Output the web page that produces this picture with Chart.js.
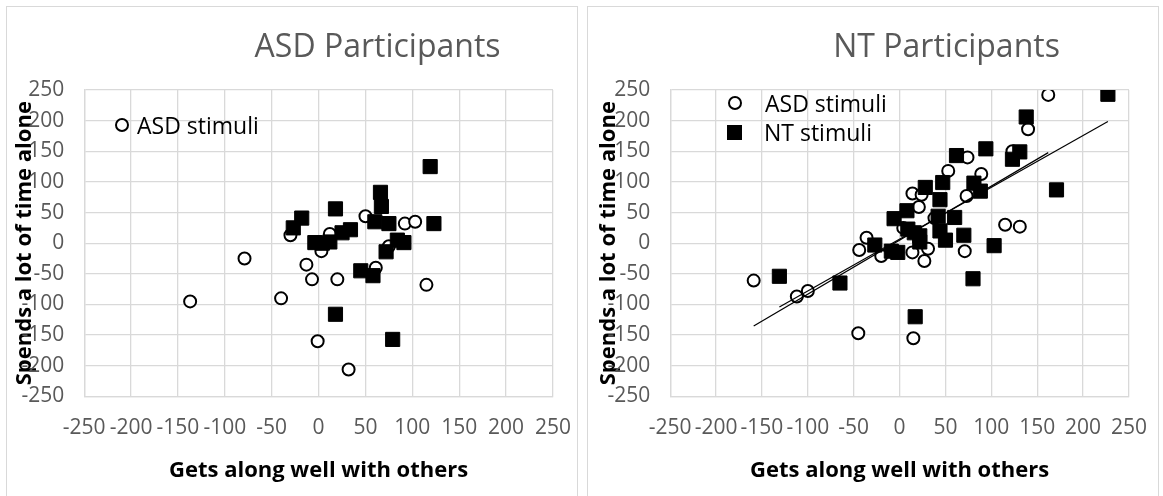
<!DOCTYPE html>
<html>
<head>
<meta charset="utf-8">
<title>Spends a lot of time alone vs Gets along well with others</title>
<script src="https://cdn.jsdelivr.net/npm/chart.js@4.4.1/dist/chart.umd.min.js"></script>
<style>
    body { margin: 0; background: #fff; font-family: 'Open Sans', sans-serif; }
    .panel {
        position: absolute;
        top: 6px;
        width: 572px;
        height: 500px;
        border: 1px solid #d9d9d9;
        box-sizing: border-box;
    }
    .chart-box { position: absolute; left: 0; top: 0; width: 570px; height: 489px; }
    .legend { position: absolute; font-size: 23px; color: #000; }
    .legend .item { position: absolute; display: flex; align-items: center; height: 30px; white-space: nowrap; }
    .mk { display: inline-block; box-sizing: border-box; flex: none; }
    .mk.circle { width: 14px; height: 14px; border: 2px solid #000; border-radius: 50%; background: #fff; }
    .mk.square { width: 15px; height: 15px; background: #000; }
</style>
</head>
<body>

<div class="panel" style="left: 6px;">
    <div class="chart-box"><canvas id="chart-asd"></canvas></div>
</div>
<div class="panel" style="left: 587px;">
    <div class="chart-box"><canvas id="chart-nt"></canvas></div>
</div>

<div class="legend">
    <div class="item" style="left: 115px; top: 110px;"><span class="mk circle" style="margin-right: 8px;"></span>ASD stimuli</div>
    <div class="item" style="left: 728px; top: 88px;"><span class="mk circle" style="margin-right: 23px;"></span>ASD stimuli</div>
    <div class="item" style="left: 727px; top: 117px;"><span class="mk square" style="margin-right: 22px;"></span>NT stimuli</div>
</div>

<script>
const axisTicks = [-250, -200, -150, -100, -50, 0, 50, 100, 150, 200, 250];

// ASD participants: ratings of ASD stimuli (circles) and NT stimuli (squares)
const asdPanelAsdStimuli = [
    [-137, -95], [-79, -25], [-40, -90], [-30, 13], [-13, -35], [-7, -59],
    [-1, -160], [3, -13], [12, 15], [20, -59], [32, -206], [50, 44],
    [61, -40], [75, -5], [92, 32], [103, 35], [115, -68],
];
const asdPanelNtStimuli = [
    [-27, 25], [-18, 41], [-4, 1], [4, 0], [12, 2], [18, 56], [25, 17],
    [34, 22], [60, 35], [66, 83], [67, 60], [75, 32], [84, 5], [91, 1],
    [72, -14], [45, -45], [58, -53], [18, -116], [79, -157], [119, 125], [123, 32],
];

// NT participants
const ntPanelAsdStimuli = [
    [-159, -61], [-112, -87], [-100, -78], [-45, -147], [-44, -11], [-36, 9],
    [-20, -21], [4, 25], [14, 81], [24, 79], [21, 59], [14, -15], [15, -155],
    [27, -29], [31, -9], [38, 41], [53, 118], [71, -13], [73, 77], [74, 140],
    [89, 113], [115, 30], [131, 27], [123, 150], [140, 186], [162, 242],
];
const ntPanelNtStimuli = [
    [-131, -54], [-65, -65], [-27, -3], [-9, -13], [-2, -15], [-6, 40], [8, 53],
    [9, 23], [16, 17], [22, 12], [22, 2], [17, -120], [28, 91], [42, 44],
    [44, 71], [44, 20], [47, 99], [50, 5], [60, 42], [62, 143], [70, 13],
    [80, -58], [81, 98], [88, 85], [94, 154], [103, -4], [123, 137], [131, 149],
    [138, 206], [171, 87], [227, 243],
];

const toPoints = (pairs) => pairs.map(([x, y]) => ({ x, y }));

// Linear least-squares trend over the series' own x range (like an Excel trendline)
const trendLine = (pairs) => {
    const n = pairs.length;
    const mx = pairs.reduce((s, p) => s + p[0], 0) / n;
    const my = pairs.reduce((s, p) => s + p[1], 0) / n;
    let sxy = 0;
    let sxx = 0;
    pairs.forEach(([x, y]) => {
        sxy += (x - mx) * (y - my);
        sxx += (x - mx) ** 2;
    });
    const slope = sxy / sxx;
    const xs = pairs.map((p) => p[0]);
    return [Math.min(...xs), Math.max(...xs)].map((x) => ({ x, y: my + slope * (x - mx) }));
};

const circleSet = (label, pairs) => ({
    label,
    data: toPoints(pairs),
    pointStyle: 'circle',
    pointRadius: 6,
    pointHoverRadius: 6,
    borderWidth: 2,
    borderColor: '#000',
    backgroundColor: '#fff',
    order: 2,
});

const squareSet = (label, pairs) => ({
    label,
    data: toPoints(pairs),
    pointStyle: 'rect',
    pointRadius: 10,
    pointHoverRadius: 10,
    borderWidth: 1,
    borderColor: '#000',
    backgroundColor: '#000',
    order: 1,
});

const trendSet = (label, pairs) => ({
    type: 'line',
    label,
    data: trendLine(pairs),
    borderColor: '#000',
    borderWidth: 1.2,
    pointRadius: 0,
    fill: false,
    order: 0,
});

/* ------------------------------------------------------------------ */
/* Panel title, placed off-centre like in the original figure          */
/* ------------------------------------------------------------------ */
const panelTitle = {
    id: 'panelTitle',
    afterDraw(chart, args, opts) {
        const { ctx, chartArea } = chart;
        ctx.save();
        ctx.font = '32px "Open Sans"';
        ctx.fillStyle = '#595959';
        ctx.textAlign = 'center';
        ctx.textBaseline = 'alphabetic';
        ctx.fillText(opts.text, (chartArea.left + chartArea.right) / 2 + opts.dx, opts.y);
        ctx.restore();
    },
};

const tickFont = { family: 'Open Sans', size: 21 };
const titleFont = { family: 'Open Sans', size: 22, weight: 'bold' };

const baseAxis = (titleText, titlePadding) => ({
    type: 'linear',
    min: -250,
    max: 250,
    afterBuildTicks: (scale) => {
        scale.ticks = axisTicks.map((value) => ({ value }));
    },
    border: { color: '#d9d9d9', width: 1.3 },
    title: { display: true, text: titleText, color: '#000', font: titleFont, padding: titlePadding },
});

const makeChart = (canvasId, datasets, cfg) =>
    new Chart(document.getElementById(canvasId), {
        type: 'scatter',
        data: { datasets },
        plugins: [panelTitle],
        options: {
            responsive: true,
            maintainAspectRatio: false,
            animation: false,
            layout: { padding: { top: 83, right: cfg.right, bottom: 12, left: 0 } },
            plugins: {
                legend: { display: false },
                tooltip: { enabled: false },
                panelTitle: { text: cfg.title, dx: cfg.titleDx, y: 50 },
            },
            scales: {
                x: {
                    ...baseAxis('Gets along well with others', { top: 14, bottom: 0 }),
                    // invisible tick marks push the labels down without widening the side padding
                    grid: { color: '#d9d9d9', lineWidth: 1.3, drawTicks: true, tickLength: 16, tickColor: 'rgba(0,0,0,0)' },
                    ticks: { color: '#595959', font: tickFont, padding: 3, maxRotation: 0, minRotation: 0, autoSkip: false },
                },
                y: {
                    ...baseAxis('Spends a lot of time alone', cfg.yTitlePadding),
                    grid: { color: '#d9d9d9', lineWidth: 1.3, drawTicks: false },
                    ticks: { color: '#595959', font: tickFont, padding: 20, autoSkip: false },
                },
            },
        },
    });

makeChart(
    'chart-asd',
    [circleSet('ASD stimuli', asdPanelAsdStimuli), squareSet('NT stimuli', asdPanelNtStimuli)],
    { title: 'ASD Participants', titleDx: 59, right: 24, yTitlePadding: { top: 5, bottom: -37 } }
);

makeChart(
    'chart-nt',
    [
        circleSet('ASD stimuli', ntPanelAsdStimuli),
        squareSet('NT stimuli', ntPanelNtStimuli),
        trendSet('ASD stimuli trend', ntPanelAsdStimuli),
        trendSet('NT stimuli trend', ntPanelNtStimuli),
    ],
    { title: 'NT Participants', titleDx: 47, right: 29, yTitlePadding: { top: 8, bottom: -35 } }
);
</script>
</body>
</html>
